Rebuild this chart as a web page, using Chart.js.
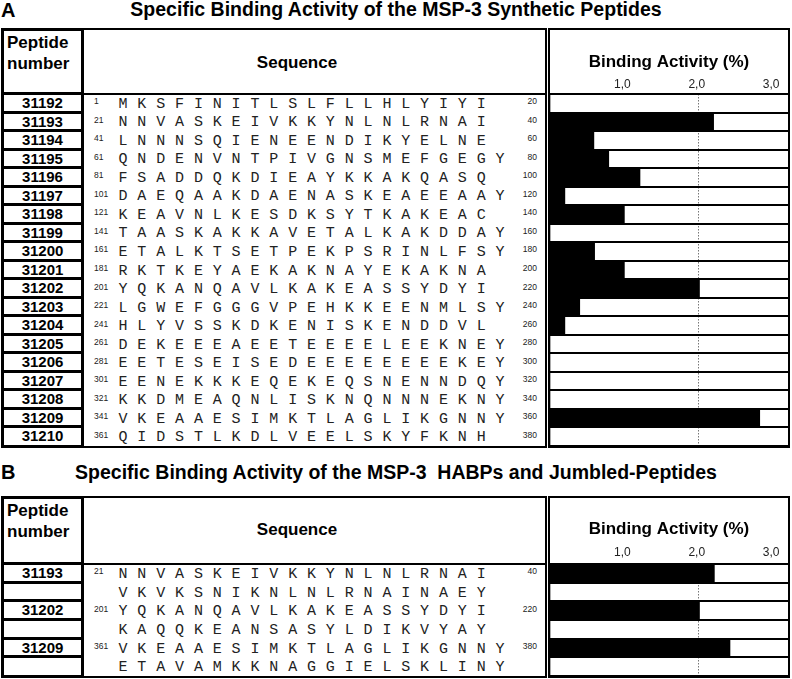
<!DOCTYPE html>
<html>
<head>
<meta charset="utf-8">
<script src="https://cdn.jsdelivr.net/npm/chart.js@4.4.1/dist/chart.umd.min.js"></script>
<style>
  body { margin: 0; width: 792px; height: 679px; background: #fff; position: relative; overflow: hidden;
         font-family: "Liberation Sans", Arial, sans-serif; color: #000; }
  .abs { position: absolute; box-sizing: border-box; }
  .panel-letter { font: bold 20px/1 "Liberation Sans", Arial, sans-serif; }
  .panel-title { font: bold 19.5px/1 "Liberation Sans", Arial, sans-serif; text-align: center; white-space: pre; }
  .pep-head { font: bold 17px/21px "Liberation Sans", Arial, sans-serif; padding: 1px 0 0 3px;
              border: 3px solid #000; }
  .pep-cell { font: bold 15px "Liberation Sans", Arial, sans-serif; text-align: center;
              border: 3px solid #000; border-top: 0; }
  .seq-box { border: 2px solid #000; }
  .seq-head { font: bold 17px/1 "Liberation Sans", Arial, sans-serif; text-align: center; }
  .aa { font: 15px/1 "Liberation Mono", "Courier New", monospace; color: #222; text-align: center; }
  .num { font: 8.5px/1 "Liberation Sans", Arial, sans-serif; color: #222; }
  .chart-box { border: 2px solid #000; }
  canvas { position: absolute; }
</style>
</head>
<body>
<script>
// ---- panel A : synthetic peptides ----
const titleA = 'Specific Binding Activity of the MSP-3 Synthetic Peptides';
const peptidesA = ['31192', '31193', '31194', '31195', '31196', '31197', '31198', '31199', '31200', '31201',
                   '31202', '31203', '31204', '31205', '31206', '31207', '31208', '31209', '31210'];
const startsA = [1, 21, 41, 61, 81, 101, 121, 141, 161, 181, 201, 221, 241, 261, 281, 301, 321, 341, 361];
const endsA = [20, 40, 60, 80, 100, 120, 140, 160, 180, 200, 220, 240, 260, 280, 300, 320, 340, 360, 380];
const sequencesA = [
  'MKSFINITLSLFLLHLYIYI',
  'NNVASKEIVKKYNLNLRNAI',
  'LNNNSQIENEENDIKYELNE',
  'QNDENVNTPIVGNSMEFGEGY',
  'FSADDQKDIEAYKKAKQASQ',
  'DAEQAAKDAENASKEAEEAAY',
  'KEAVNLKESDKSYTKAKEAC',
  'TAASKAKKAVETALKAKDDAY',
  'ETALKTSETPEKPSRINLFSY',
  'RKTKEYAEKAKNAYEKAKNA',
  'YQKANQAVLKAKEASSYDYI',
  'LGWEFGGGVPEHKKEENMLSY',
  'HLYVSSKDKENISKENDDVL',
  'DEKEEEAEETEEEELEEKNEY',
  'EETESEISEDEEEEEEEEKEY',
  'EENEKKKEQEKEQSNENNDQY',
  'KKDMEAQNLISKNQNNNEKNY',
  'VKEAAESIMKTLAGLIKGNNY',
  'QIDSTLKDLVEELSKYFKNH'
];
const bindingA = [0, 2.2, 0.59, 0.79, 1.21, 0.2, 1.0, 0, 0.6, 1.0, 2.01, 0.4, 0.2, 0, 0, 0, 0, 2.82, 0];

// ---- panel B : HABPs and jumbled peptides ----
const titleB = 'Specific Binding Activity of the MSP-3  HABPs and Jumbled-Peptides';
const peptidesB = ['31193', '', '31202', '', '31209', ''];
const startsB = [21, null, 201, null, 361, null];
const endsB = [40, null, 220, null, 380, null];
const sequencesB = [
  'NNVASKEIVKKYNLNLRNAI',
  'VKVKSNIKNLNLRNAINAEY',
  'YQKANQAVLKAKEASSYDYI',
  'KAQQKEANSASYLDIKVYAY',
  'VKEAAESIMKTLAGLIKGNNY',
  'ETAVAMKKNAGGIELSKLINY'
];
const bindingB = [2.21, 0, 2.01, 0, 2.42, 0];

// binding axis
const tickValues = [1, 2, 3];
const tickLabels = ['1,0', '2,0', '3,0'];
const axisMax = 3.2;
const referenceValue = 2;

Chart.defaults.font.family = '"Liberation Sans", Arial, sans-serif';
Chart.defaults.color = '#000';

function el(cls, left, top, width, height, html) {
  const d = document.createElement('div');
  d.className = 'abs ' + cls;
  d.style.left = left + 'px';
  d.style.top = top + 'px';
  if (width != null) d.style.width = width + 'px';
  if (height != null) d.style.height = height + 'px';
  if (html != null) d.innerHTML = html;
  document.body.appendChild(d);
  return d;
}

function buildPanel(L, letter, title, peptides, starts, ends, seqs, values, canvasId) {
  const n = peptides.length;
  const pitch = (L.bottom - 1 - L.header) / n;

  el('panel-letter', 1, L.letterTop, null, null, letter);
  el('panel-title', 0, L.titleTop, 792, null, title);

  // peptide number column
  el('pep-head', 1, L.top, 83, L.header - L.top + 1, 'Peptide<br>number');
  peptides.forEach((p, i) => {
    const top = L.header + 1 + i * pitch;
    const c = el('pep-cell', 1, top, 83, pitch + (i === n - 1 ? 1 : 0), p);
    c.style.lineHeight = (pitch - 3) + 'px';
  });

  // sequence column
  el('seq-box', 82, L.top, 465, L.bottom - L.top + 1);
  el('', 82, L.header - 1, 465, 2).style.background = '#000';
  el('seq-head', 200, L.titleY - 8, 194, null, 'Sequence');

  seqs.forEach((s, i) => {
    const cy = L.header + (i + 0.5) * pitch;
    [...s].forEach((ch, k) => {
      el('aa', 113.6 + k * 18.85, cy - 6.5, 18.85, null, ch);
    });
    if (starts[i] != null) el('num', 94, cy - 6, null, null, String(starts[i]));
    if (ends[i] != null) {
      const e = el('num', 500, cy - 6, 37, null, String(ends[i]));
      e.style.textAlign = 'right';
    }
  });

  // binding activity chart
  el('chart-box', 548, L.top, 242, L.bottom - L.top + 1);
  const canvasTop = L.top + 2;
  const canvas = document.createElement('canvas');
  canvas.id = canvasId;
  canvas.width = 238;
  canvas.height = L.bottom - 1 - canvasTop;
  canvas.style.left = '550px';
  canvas.style.top = canvasTop + 'px';
  document.body.appendChild(canvas);

  const areaTop = L.header - canvasTop;
  const titleLH = 17 * 1.2;
  const titlePadTop = (L.titleY - canvasTop) - titleLH / 2;
  const axisH = areaTop - titlePadTop - titleLH;
  const tickPad = (L.header - L.tickY) - 12 * 1.2 / 2;

  new Chart(canvas, {
    type: 'bar',
    data: {
      labels: peptides.map((p, i) => p || ' '.repeat(i + 1)),
      datasets: [{
        data: values,
        backgroundColor: '#000',
        borderWidth: 0,
        barPercentage: 1,
        categoryPercentage: 1
      }]
    },
    options: {
      indexAxis: 'y',
      responsive: false,
      animation: false,
      devicePixelRatio: 1,
      layout: { padding: 0 },
      plugins: {
        legend: { display: false },
        tooltip: { enabled: false },
        title: {
          display: true,
          text: 'Binding Activity (%)',
          color: '#000',
          font: { size: 17, weight: 'bold', lineHeight: 1.2 },
          padding: { top: titlePadTop, bottom: 0 }
        }
      },
      scales: {
        x: {
          position: 'top',
          min: 0,
          max: axisMax,
          z: 1,
          afterBuildTicks: s => { s.ticks = tickValues.map(v => ({ value: v })); },
          afterFit: s => { s.height = axisH; },
          ticks: {
            autoSkip: false,
            padding: tickPad,
            color: '#222',
            font: { size: 12 },
            labelOffset: -2,
            callback: v => tickLabels[tickValues.indexOf(v)]
          },
          grid: {
            drawTicks: false,
            color: c => (c.tick && c.tick.value === referenceValue) ? '#777' : 'rgba(0,0,0,0)',
            lineWidth: 1
          },
          border: { display: false, dash: [1.5, 1.5] }
        },
        y: {
          afterFit: s => { s.width = 0; },
          ticks: { display: false },
          grid: { color: '#000', lineWidth: 2, drawTicks: false },
          border: { display: false }
        }
      }
    }
  });
}

buildPanel({ letterTop: 0, titleTop: 0, top: 28, header: 94, bottom: 447, titleY: 62, tickY: 85 },
  'A', titleA, peptidesA, startsA, endsA, sequencesA, bindingA, 'chartA');
buildPanel({ letterTop: 462, titleTop: 463, top: 496, header: 564, bottom: 677, titleY: 529, tickY: 553 },
  'B', titleB, peptidesB, startsB, endsB, sequencesB, bindingB, 'chartB');
</script>
</body>
</html>
